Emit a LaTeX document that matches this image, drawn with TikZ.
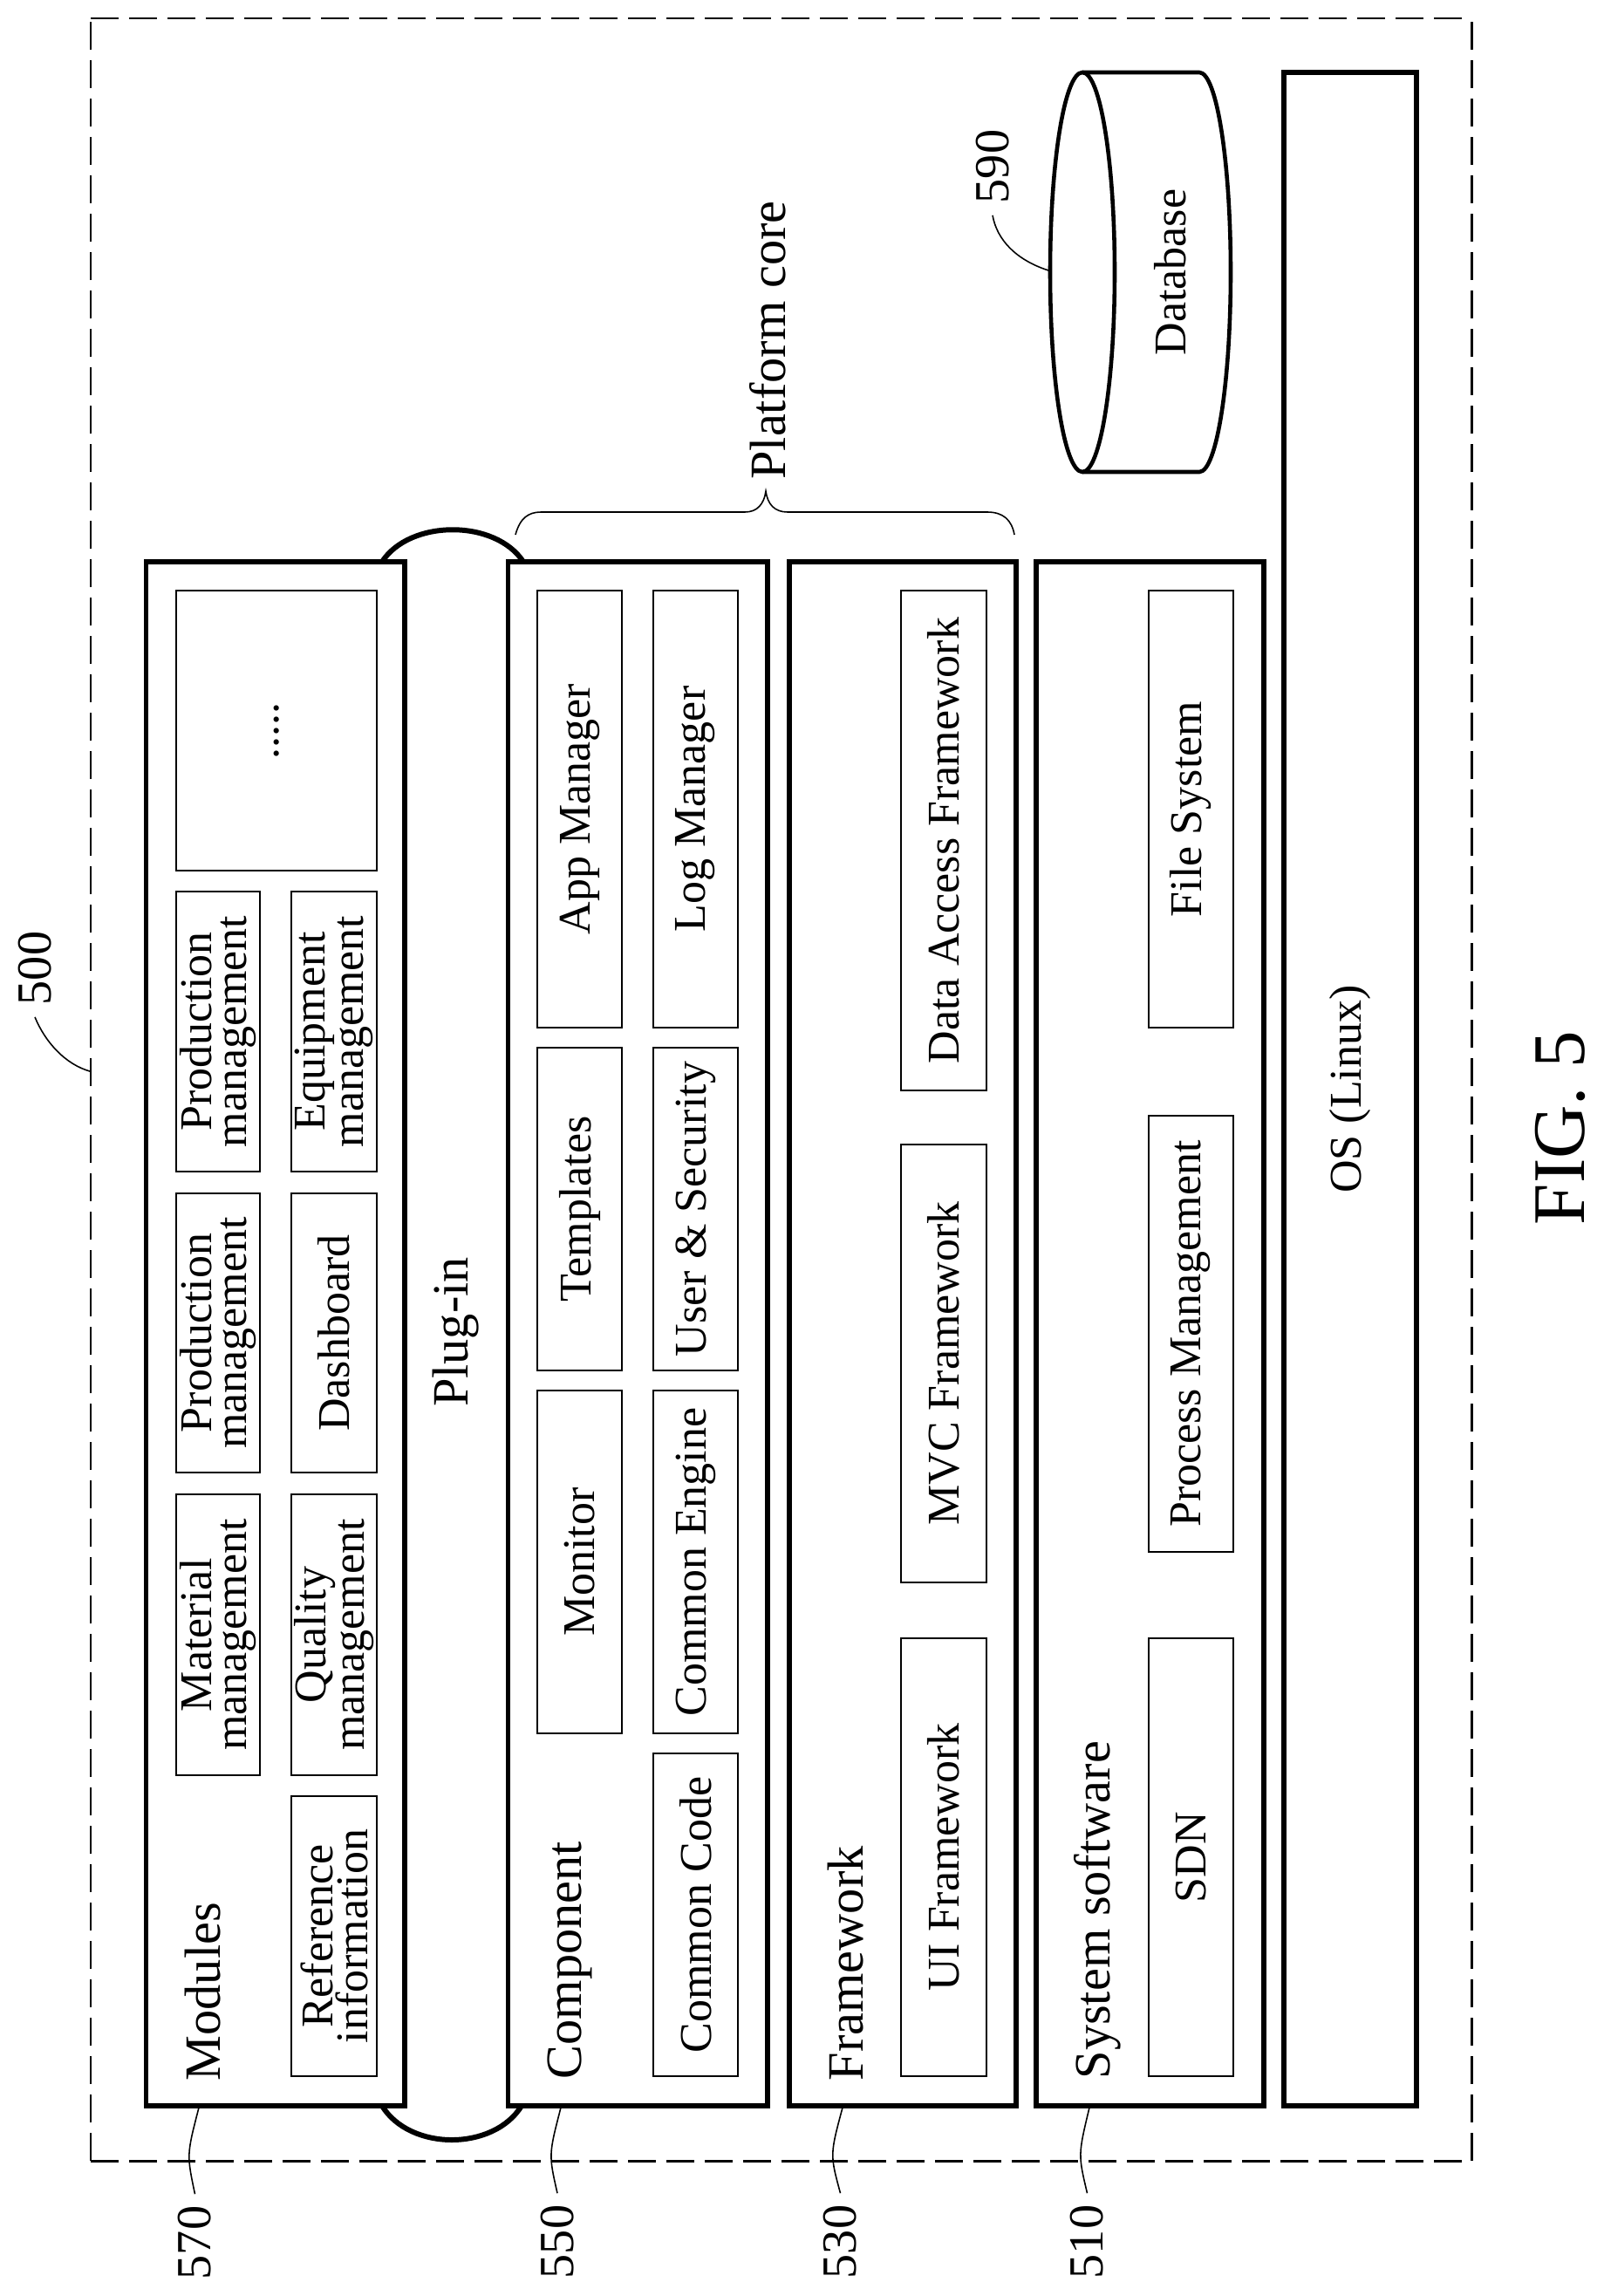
\documentclass[tikz,border=0pt]{standalone}
\usepackage{fontspec}
\setmainfont{Liberation Serif}
\newcommand{\cellfont}{\fontsize{14.8}{11.4}\selectfont}
\newcommand{\titlefont}{\fontsize{16.6}{19}\selectfont}
\newcommand{\numfont}{\fontsize{16}{19}\selectfont}
\tikzset{
	layerbox/.style 2 args={draw, line width=1.55pt, rotate=90, font=\cellfont, inner sep=0pt, minimum width=#1cm, minimum height=#2cm},
	cellbox/.style 2 args={draw, line width=.77pt, rotate=90, font=\cellfont, align=center, inner sep=0pt, minimum width=#1cm, minimum height=#2cm},
	titletext/.style={rotate=90, font=\titlefont, inner sep=0pt, anchor=base west},
	numtext/.style={rotate=90, font=\numfont, inner sep=.13cm},
	leader/.style={line width=.45pt},
	pluginarc/.style={line width=1.7pt},
	dashline/.style={line width=.85pt, dash pattern=on .32cm off .12cm}
}
\begin{document}
\begin{tikzpicture}
	\useasboundingbox (0,0) rectangle (18.39,-26.32);
	\node[minimum width=15.83cm, minimum height=24.56cm, inner sep=0pt, outer sep=0pt] (outer) at (8.955,-12.49) {};
	\draw[dashline] (outer.south west) -- (outer.north west);
	\draw[dashline] (outer.north west) -- (outer.north east);
	\draw[dashline] (outer.south west) -- (outer.south east);
	\draw[dashline] (outer.south east) -- (outer.north east);
	% layers
	\node[layerbox={17.70}{2.965}] (modules) at (3.1575,-15.29) {};
	\node[layerbox={17.70}{2.975}] (component) at (7.3125,-15.29) {};
	\node[layerbox={17.70}{2.60}] (framework) at (10.35,-15.29) {};
	\node[layerbox={17.70}{2.61}] (syssoft) at (13.185,-15.29) {};
	\node[layerbox={23.31}{1.52}] (os) at (15.48,-12.485) {OS (Linux)};
	\node[titletext] (modulestitle) at (2.52,-23.86) {Modules};
	\node[titletext] (componenttitle) at (6.66,-23.84) {Component};
	\node[titletext] (frameworktitle) at (9.89,-23.86) {Framework};
	\node[titletext] (syssofttitle) at (12.72,-23.84) {System software};
	\node[rotate=90, font=\titlefont, inner sep=0pt] (plugin) at (5.23,-15.27) {Plug-in};
	% modules
	\node[cellbox={3.21}{2.30}] (dots) at (3.17,-8.375) {.....};
	\node[cellbox={3.21}{.96}] (prodone) at (2.50,-11.825) {Production\\management};
	\node[cellbox={3.20}{.96}] (prodtwo) at (2.50,-15.28) {Production\\management};
	\node[cellbox={3.22}{.96}] (material) at (2.50,-18.74) {Material\\management};
	\node[cellbox={3.21}{.98}] (equipment) at (3.83,-11.825) {Equipment\\management};
	\node[cellbox={3.20}{.98}] (dashboard) at (3.83,-15.28) {Dashboard};
	\node[cellbox={3.22}{.98}] (quality) at (3.83,-18.74) {Quality\\management};
	\node[cellbox={3.21}{.98}] (reference) at (3.83,-22.195) {Reference\\information};
	% component
	\node[cellbox={5.01}{.97}] (appmgr) at (6.645,-9.275) {App Manager};
	\node[cellbox={3.70}{.97}] (templates) at (6.645,-13.86) {Templates};
	\node[cellbox={3.93}{.97}] (monitor) at (6.645,-17.905) {Monitor};
	\node[cellbox={5.01}{.97}] (logmgr) at (7.975,-9.275) {Log Manager};
	\node[cellbox={3.70}{.97}] (usersec) at (7.975,-13.86) {User \& Security};
	\node[cellbox={3.93}{.97}] (commonengine) at (7.975,-17.905) {Common Engine};
	\node[cellbox={3.70}{.97}] (commoncode) at (7.975,-21.95) {Common Code};
	% framework
	\node[cellbox={5.73}{.98}] (dataaccess) at (10.82,-9.635) {Data Access Framework};
	\node[cellbox={5.02}{.98}] (mvc) at (10.82,-15.63) {MVC Framework};
	\node[cellbox={5.02}{.98}] (ui) at (10.82,-21.29) {UI Framework};
	% system software
	\node[cellbox={5.01}{.97}] (filesystem) at (13.655,-9.275) {File System};
	\node[cellbox={5.00}{.97}] (process) at (13.655,-15.29) {Process Management};
	\node[cellbox={5.02}{.97}] (sdn) at (13.655,-21.29) {SDN};
	% database
	\draw[line width=1.3pt] (12.41,-3.12) ellipse (.37 and 2.29);
	\draw[line width=1.3pt] (12.41,-.83) -- (13.75,-.83) arc (90:-90:.36 and 2.29) -- (12.41,-5.41);
	\node[rotate=90, font=\cellfont, inner sep=0pt] (database) at (13.42,-3.12) {Database};
	% plug-in arcs
	\coordinate (archl) at (4.38,-6.44);
	\coordinate (archr) at (6.00,-6.44);
	\coordinate (arcll) at (4.38,-24.14);
	\coordinate (arclr) at (5.98,-24.14);
	\draw[pluginarc] (archl) .. controls (4.70,-5.95) and (5.68,-5.95) .. (archr);
	\draw[pluginarc] (arcll) .. controls (4.70,-24.66) and (5.66,-24.66) .. (arclr);
	% platform core brace
	\node[rotate=90, font=\titlefont, inner sep=0pt] (core) at (8.80,-3.90) {Platform core};
	\coordinate (bracel) at (5.91,-6.13);
	\coordinate (bracer) at (11.63,-6.13);
	\coordinate (bracetip) at (8.78,-5.63);
	\draw[leader] (bracel) .. controls (5.96,-5.94) and (6.06,-5.87) .. (6.20,-5.87) -- (8.54,-5.87) .. controls (8.68,-5.87) and (8.76,-5.78) .. (bracetip) .. controls (8.80,-5.78) and (8.88,-5.87) .. (9.03,-5.87) -- (11.32,-5.87) .. controls (11.50,-5.87) and (11.60,-5.96) .. (bracer);
	% reference numbers
	\node[numtext] (numouter) at (.40,-11.10) {500};
	\node[numtext] (numdb) at (11.38,-1.91) {590};
	\node[numtext] (nummodules) at (2.235,-25.71) {570};
	\node[numtext] (numcomponent) at (6.39,-25.70) {550};
	\node[numtext] (numframework) at (9.635,-25.70) {530};
	\node[numtext] (numsyssoft) at (12.465,-25.70) {510};
	\coordinate (hitouter) at (1.03,-12.28);
	\coordinate (hitdb) at (12.02,-3.10);
	\coordinate (hitmodules) at (2.28,-24.16);
	\coordinate (hitcomponent) at (6.43,-24.16);
	\coordinate (hitframework) at (9.66,-24.16);
	\coordinate (hitsyssoft) at (12.49,-24.16);
	\draw[leader] (numouter.west) .. controls (.52,-11.95) and (.75,-12.20) .. (hitouter);
	\draw[leader] (numdb.west) .. controls (11.43,-2.75) and (11.65,-2.98) .. (hitdb);
	\draw[leader] (nummodules.east) .. controls (2.14,-24.70) .. (hitmodules);
	\draw[leader] (numcomponent.east) .. controls (6.29,-24.70) .. (hitcomponent);
	\draw[leader] (numframework.east) .. controls (9.515,-24.70) .. (hitframework);
	\draw[leader] (numsyssoft.east) .. controls (12.36,-24.70) .. (hitsyssoft);
	% caption
	\node[rotate=90, font=\fontsize{24.2}{29}\selectfont, inner sep=0pt] (caption) at (17.89,-12.93) {FIG. 5};
\end{tikzpicture}
\end{document}
